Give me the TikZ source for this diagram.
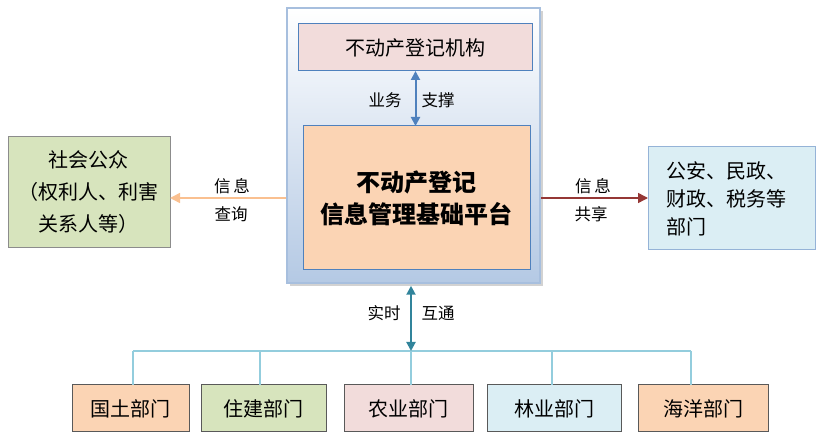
\documentclass[tikz,border=0pt]{standalone}
\usepackage{fontspec}
\setmainfont{Noto Sans CJK SC}
\usetikzlibrary{arrows.meta,shadows,calc}
\definecolor{frameline}{HTML}{A7BFDE}
\definecolor{framefill}{HTML}{B4C9E4}
\definecolor{boxblue}{HTML}{4F81BD}
\definecolor{pinkfill}{HTML}{F2DCDB}
\definecolor{peachfill}{HTML}{FBD4B4}
\definecolor{greenfill}{HTML}{D7E4BD}
\definecolor{cyanfill}{HTML}{DBEEF4}
\definecolor{orangeline}{HTML}{FAC090}
\definecolor{redline}{HTML}{953735}
\definecolor{tealline}{HTML}{31849B}
\definecolor{busline}{HTML}{93CDDD}
\tikzset{% 
  unit box/.style={%
    draw, line width=1pt, inner sep=0pt, outer sep=0pt, align=center,
    font=\fontsize{20pt}{32pt}\selectfont
  }
}
\tikzset{% 
  dept box/.style={%
    unit box, draw=black!65, minimum height=47pt
  }
}
\tikzset{% 
  link label/.style={%
    inner sep=0pt, font=\fontsize{16.5pt}{20pt}\selectfont
  }
}
\tikzset{% 
  two way/.style={%
    line width=2pt, {Triangle[width=9pt,length=9pt]}-{Triangle[width=9pt,length=9pt]}
  }
}

\begin{document}
\begin{tikzpicture}[x=1pt, y=-1pt]
  \useasboundingbox (0,0) rectangle (823,443);
  \node [draw=frameline, line width=1.5pt, top color=white, bottom color=framefill,
    minimum width=253pt, minimum height=275pt, inner sep=0pt,
    drop shadow={shadow xshift=3pt, shadow yshift=-3pt, fill=black!35}]
    (frame) at (413.5, 145.5) {};
  \node [unit box, draw=boxblue, fill=pinkfill, minimum width=234pt, minimum height=47pt]
    (organ) at (415, 47.5) {不动产登记机构};
  \node [unit box, draw=boxblue, fill=peachfill, minimum width=227pt, minimum height=144pt,
    font=\fontsize{24pt}{32pt}\selectfont\bfseries]
    (platform) at (416.5, 198) {不动产登记\\信息管理基础平台};
  \node [unit box, draw=black!45, fill=greenfill, minimum width=162pt, minimum height=111pt]
    (public) at (89, 192.5) {社会公众\\（权利人、利害\\关系人等）};
  \node [unit box, draw=boxblue!60, fill=cyanfill, minimum width=167pt, minimum height=103pt,
    text width=130pt, align=left, font=\fontsize{20pt}{28pt}\selectfont]
    (depts) at (731.5, 198.5) {公安、民政、\\财政、税务等\\部门};
  % departments below the platform
  \node [dept box, fill=peachfill, minimum width=117pt] (guotu) at (130.5, 408.5) {国土部门};
  \node [dept box, fill=greenfill, minimum width=125pt] (zhujian) at (263.5, 408.5) {住建部门};
  \node [dept box, fill=pinkfill, minimum width=129pt] (nongye) at (408.5, 408.5) {农业部门};
  \node [dept box, fill=cyanfill, minimum width=134pt] (linye) at (554, 408.5) {林业部门};
  \node [dept box, fill=peachfill, minimum width=130pt] (haiyang) at (703, 408.5) {海洋部门};
  \coordinate (bus1) at (133, 351);
  \coordinate (bus2) at (260, 351);
  \coordinate (bus3) at (411, 351);
  \coordinate (bus4) at (552, 351);
  \coordinate (bus5) at (691, 351);
  \draw [busline, line width=1.5pt] (bus1) -- (bus5);
  \foreach \b/\d in {bus1/guotu, bus2/zhujian, bus3/nongye, bus4/linye, bus5/haiyang}
    \draw [busline, line width=1.5pt] (\b) -- (\b |- \d.north);
  % links
  \draw [two way, boxblue] ($(organ.south)+(0.5,0)$) -- ($(organ.south |- platform.north)+(0.5,0)$);
  \draw [two way, tealline] (bus3 |- frame.south) ++(0,2) -- (bus3);
  \draw [line width=1.5pt, orangeline, -{Triangle[width=10pt,length=10pt]}]
    (frame.west |- platform.west) -- (public.east |- platform.west);
  \draw [line width=1.5pt, redline, -{Triangle[width=10pt,length=10pt]}]
    (frame.east |- platform.east) -- (depts.west |- platform.east);
  \node [link label] (yewu) at (385, 100) {业务};
  \node [link label] (zhicheng) at (438, 100) {支撑};
  \node [link label] (xinxi1) at (232, 186) {信\,息};
  \node [link label] (chaxun) at (231, 214) {查询};
  \node [link label] (xinxi2) at (593, 186) {信\,息};
  \node [link label] (gongxiang) at (591, 214) {共享};
  \node [link label] (shishi) at (384, 313) {实时};
  \node [link label] (hutong) at (438, 313) {互通};
\end{tikzpicture}
\end{document}
